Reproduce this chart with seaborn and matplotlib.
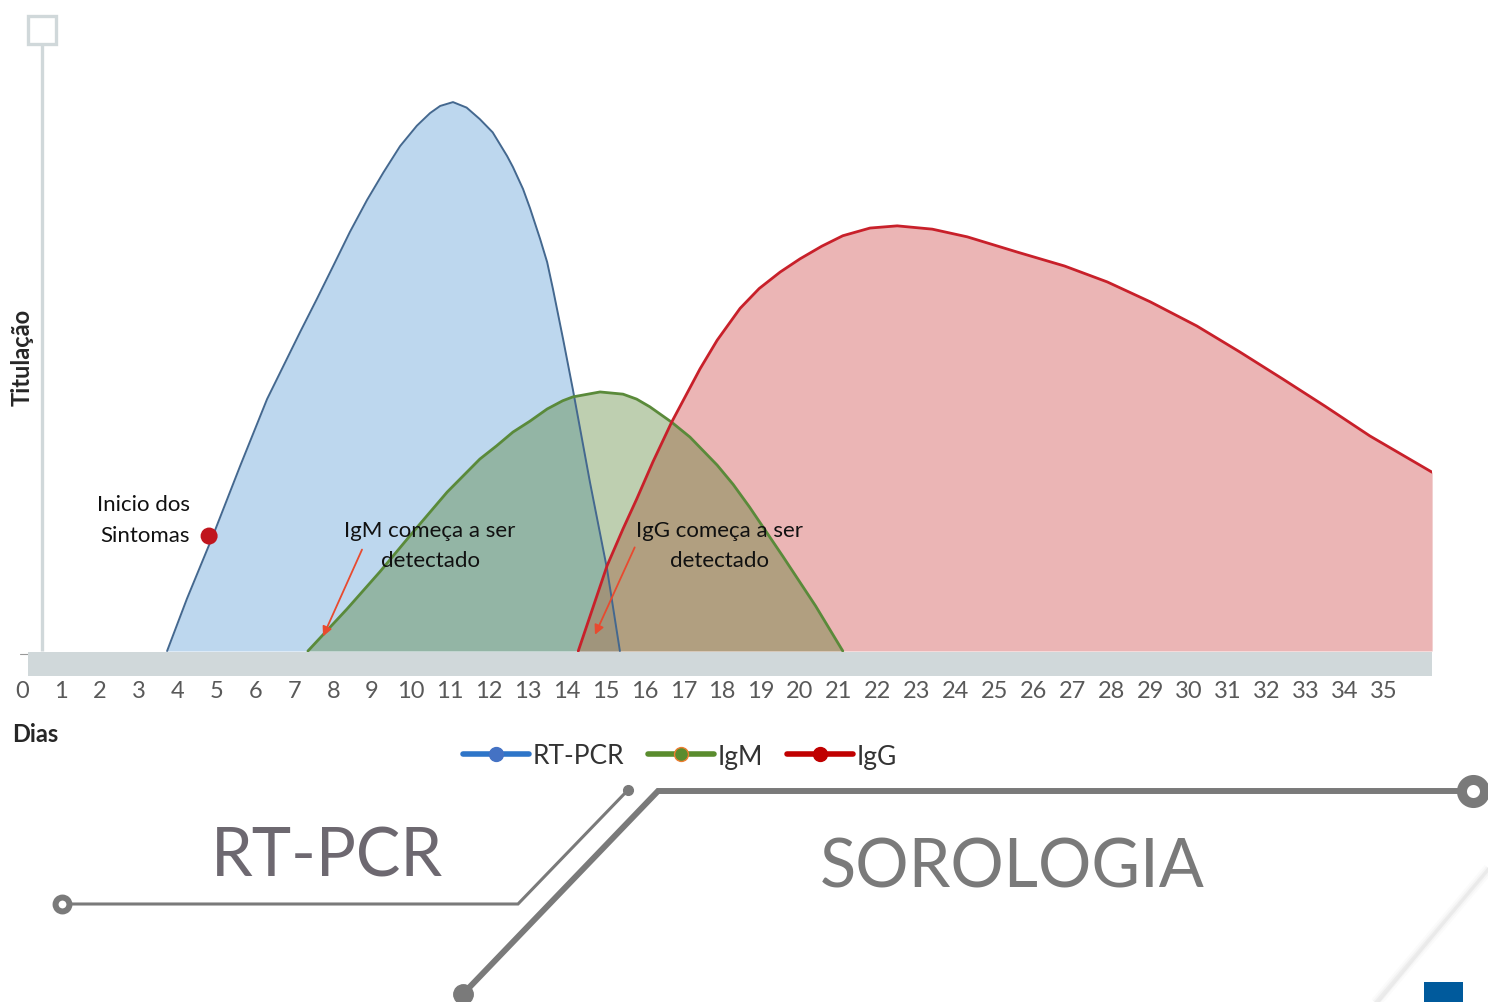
import matplotlib
matplotlib.use("Agg")
import matplotlib.pyplot as plt
from matplotlib.lines import Line2D
from matplotlib.patches import Rectangle
import seaborn as sns

# curves: day after infection vs titre (0-100 scale)
rtpcr_days = [3.73, 4.24, 4.91, 5.6, 6.3, 7.15, 7.58, 8.0, 8.43, 8.87, 9.29, 9.72,
              10.15, 10.49, 10.75, 11.08, 11.43, 11.77, 12.1, 12.47, 12.62, 12.88,
              13.06, 13.32, 13.5, 13.65, 13.91, 14.16, 14.6, 15.04, 15.37]
rtpcr_vals = [0, 9.5, 21, 33.5, 45.8, 58, 64, 70, 76.2, 82, 87, 91.8,
              95.5, 97.8, 99.1, 99.8, 98.8, 96.7, 94.3, 90.0, 88.0, 84.0,
              80.5, 74.9, 70.7, 65.8, 56.7, 47.6, 30.7, 14.9, 0]

igm_days = [7.35, 8.35, 9.2, 10.05, 10.93, 11.77, 12.2, 12.62, 13.06, 13.5, 13.9,
            14.16, 14.86, 15.45, 15.8, 16.14, 16.7, 17.17, 17.87, 18.28, 18.7,
            19.56, 20.4, 21.1]
igm_vals = [0, 7.6, 14.4, 21.6, 28.9, 34.9, 37.3, 39.8, 41.8, 44, 45.5,
            46.2, 47.1, 46.7, 45.8, 44.4, 41.6, 38.9, 33.8, 30.3, 26.2,
            17.2, 8.2, 0]

igg_days = [14.3, 15.04, 15.45, 15.8, 16.22, 16.7, 17.43, 17.87, 18.46, 18.95,
            19.49, 20.0, 20.56, 21.1, 21.8, 22.5, 23.4, 24.3, 25.6, 26.8, 27.9,
            29.0, 30.2, 31.3, 32.4, 33.5, 34.65, 36.25]
igg_vals = [0, 15.5, 22.2, 27.6, 34.4, 41.6, 51.3, 56.5, 62.3, 65.9,
            68.9, 71.3, 73.6, 75.5, 76.9, 77.3, 76.7, 75.3, 72.5, 70, 67.1,
            63.5, 59.1, 54.4, 49.5, 44.5, 39.1, 32.5]

onset_day = [4.81]
onset_val = [20.9]

day_ticks = list(range(0, 36))
day_labels = [str(d) for d in day_ticks]
series_names = ["RT-PCR", "IgM", "IgG"]

sns.set_theme(style="white")
plt.rcParams["font.family"] = ["Lato", "DejaVu Sans"]

W, H = 1488, 1003
fig = plt.figure(figsize=(W / 100, H / 100), dpi=100)
fig.patch.set_facecolor("white")

# main axes: box from pixel x 0..1432 and y 0..677
ax = fig.add_axes([0, 1 - 677 / H, 1432 / W, 677 / H])
ax.set_xlim(-22 / 38.9, (1432 - 22) / 38.9)
ax.set_ylim(-25 / 5.5, 652 / 5.5)
ax.patch.set_alpha(0)
for s in ax.spines.values():
    s.set_visible(False)

# areas
ax.fill_between(rtpcr_days, rtpcr_vals, 0, color="#BDD7EE", lw=0, zorder=1)
ax.fill_between(igg_days, igg_vals, 0, color="#DE8585", alpha=0.6, lw=0, zorder=2)
ax.fill_between(igm_days, igm_vals, 0, color="#4B7A24", alpha=0.36, lw=0, zorder=3)

# outlines
sns.lineplot(x=rtpcr_days, y=rtpcr_vals, color="#44688F", lw=1.4, ax=ax, zorder=4,
             sort=False, solid_joinstyle="round")
sns.lineplot(x=igm_days, y=igm_vals, color="#5A8A3A", lw=2.0, ax=ax, zorder=4,
             sort=False, solid_joinstyle="round")
sns.lineplot(x=igg_days, y=igg_vals, color="#C8202A", lw=2.0, ax=ax, zorder=4,
             sort=False, solid_joinstyle="round")

# grey base bar and vertical axis
ax.add_patch(Rectangle(((28 - 22) / 38.9, -25 / 5.5), (1432 - 28) / 38.9, 24 / 5.5,
                       color="#D0D8DA", lw=0, zorder=5))
ax.plot([20 / 38.9, 20 / 38.9], [0, 607 / 5.5], color="#D0D8DA", lw=2.4, zorder=5,
        solid_capstyle="butt")

ax.set_xticks(day_ticks)
ax.set_xticklabels(day_labels)
ax.set_yticks([])
ax.tick_params(axis="x", length=0, pad=3, labelsize=17, labelcolor="#595959")
ax.set_xlabel("")
ax.set_ylabel("")

# symptom onset
sns.scatterplot(x=onset_day, y=onset_val, s=150, color="#C0161E", edgecolor="none",
                ax=ax, zorder=6)
ax.text(4.32, 23.9, "Inicio dos\nSintomas", ha="right", va="center",
        multialignment="right", fontsize=16, color="#111111", linespacing=1.65, zorder=7)

ax.text(10.49, 19.3, "IgM começa a ser\ndetectado", ha="center", va="center",
        fontsize=16, color="#111111", linespacing=1.6, zorder=7)
ax.text(17.94, 19.3, "IgG começa a ser\ndetectado", ha="center", va="center",
        fontsize=16, color="#111111", linespacing=1.6, zorder=7)
arrow = dict(arrowstyle="-|>", color="#E84A2F", lw=1.3, mutation_scale=14)
ax.annotate("", xy=(7.71, 2.2), xytext=(8.77, 18.9), arrowprops=arrow, zorder=7)
ax.annotate("", xy=(14.7, 2.5), xytext=(15.78, 19.3), arrowprops=arrow, zorder=7)

fig.text(12 / W, 1 - 735 / H, "Dias", ha="left", va="center", fontsize=17,
         fontweight="bold", color="#262626")
fig.text(22 / W, 1 - 357 / H, "Titulação", ha="center", va="center", rotation=90,
         fontsize=17, fontweight="bold", color="#262626")

handles = [
    Line2D([0], [0], color="#2E75C8", lw=4, marker="o", markersize=10,
           markerfacecolor="#4472C4", markeredgecolor="#4472C4"),
    Line2D([0], [0], color="#5A8C2E", lw=4, marker="o", markersize=10,
           markerfacecolor="#5A8C2E", markeredgecolor="#ED7D31"),
    Line2D([0], [0], color="#C00000", lw=4, marker="o", markersize=10,
           markerfacecolor="#C00000", markeredgecolor="#C00000"),
]
fig.legend(handles, series_names, loc="center", bbox_to_anchor=(680 / W, 1 - 757 / H),
           ncol=3, frameon=False, fontsize=19, handlelength=2.5, handletextpad=0.15,
           columnspacing=0.9, labelcolor="#333333")

# decorative overlay in pixel coordinates
deco = fig.add_axes([0, 0, 1, 1], zorder=-1)
deco.set_xlim(0, W)
deco.set_ylim(H, 0)
deco.axis("off")

grey = "#7A7A7A"
deco.add_patch(Rectangle((28, 17), 28, 28, fill=False, edgecolor="#D0D8DA", lw=2.4))
deco.plot([20, 28], [655, 655], color="#999999", lw=0.8)

deco.plot([62, 518, 628], [905, 905, 791], color=grey, lw=2.2, solid_joinstyle="miter")
deco.plot([62], [905], marker="o", markersize=10, markerfacecolor="white",
          markeredgecolor=grey, markeredgewidth=4.3)
deco.plot([628], [791], marker="o", markersize=7, color=grey)
deco.plot([463, 658, 1460], [995, 792, 792], color=grey, lw=4.3, solid_joinstyle="miter")
deco.plot([463], [995], marker="o", markersize=14, color=grey)
deco.plot([1473], [792], marker="o", markersize=16.6, markerfacecolor="white",
          markeredgecolor=grey, markeredgewidth=7.2)

deco.text(327, 877, "RT-PCR", ha="center", va="baseline", fontsize=48, color="#6D6870")
deco.text(1012, 888, "SOROLOGIA", ha="center", va="baseline", fontsize=48, color=grey)

# page curl edge
for w, a in [(8, 0.03), (5, 0.05), (2.5, 0.08)]:
    deco.plot([1492, 1374], [866, 1006], color="#888888", lw=w, alpha=a,
              solid_capstyle="butt")
deco.plot([1490, 1377], [868, 1005], color="#EAEAEA", lw=1.5)
deco.add_patch(Rectangle((1424, 983), 39, 22, color="#005A9C", lw=0))

fig.savefig("out.png", dpi=100, facecolor="white")
